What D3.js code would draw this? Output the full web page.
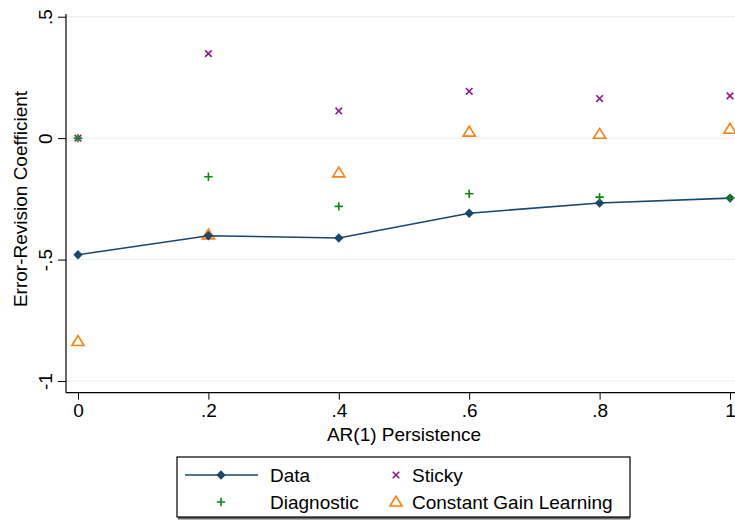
<!DOCTYPE html>
<html><head><meta charset="utf-8">
<script src="https://cdn.jsdelivr.net/npm/d3@7"></script>
<style>body{margin:0;background:#fff}svg{display:block}text{font-family:"Liberation Sans",Arial,sans-serif;fill:#000}</style>
</head><body><svg id="c" width="735" height="521"></svg>
<script>
const xs = [0, 0.2, 0.4, 0.6, 0.8, 1];
const dataVals = [-0.48, -0.402, -0.411, -0.309, -0.267, -0.247];
const stickyVals = [0.0, 0.348, 0.112, 0.193, 0.163, 0.174];
const diagnosticVals = [0.0, -0.159, -0.281, -0.229, -0.243, -0.247];
const cglVals = [-0.837, -0.398, -0.143, 0.025, 0.016, 0.037];
const xTicks = [0, 0.2, 0.4, 0.6, 0.8, 1];
const xTickLabels = ["0", ".2", ".4", ".6", ".8", "1"];
const yTicks = [0.5, 0, -0.5, -1];
const yTickLabels = [".5", "0", "-.5", "-1"];

const FS = 19;
const svg = d3.select("#c");
const x = d3.scaleLinear().domain([0, 1]).range([78, 730]);
const y = d3.scaleLinear().domain([-1, 0.5]).range([381, 16.7]);
const pL = 66, pR = 735, pT = 14, pB = 392.7;

// gridlines
svg.append("g").selectAll("line").data(yTicks).join("line")
  .attr("x1", pL).attr("x2", pR).attr("y1", d => y(d)).attr("y2", d => y(d))
  .attr("stroke", "#eaf2f3").attr("stroke-width", 1.2);

// y axis
const yAxis = d3.axisLeft(y).tickValues(yTicks).tickSize(8).tickFormat((d, i) => yTickLabels[i]);
const gy = svg.append("g").attr("transform", `translate(${pL},0)`).call(yAxis);
gy.select(".domain").remove();
gy.selectAll(".tick line").attr("stroke", "#000");
gy.selectAll(".tick text").attr("font-size", FS).attr("fill", "#000")
  .attr("x", 0).attr("y", 0).attr("dy", 0)
  .attr("text-anchor", "middle")
  .attr("transform", "translate(-14,0) rotate(-90)");
svg.append("line").attr("x1", pL).attr("x2", pL).attr("y1", pT).attr("y2", pB).attr("stroke", "#000").attr("stroke-width", 1.2);

// x axis
const xAxis = d3.axisBottom(x).tickValues(xTicks).tickSize(7).tickFormat((d, i) => xTickLabels[i]);
const gx = svg.append("g").attr("transform", `translate(0,${pB})`).call(xAxis);
gx.select(".domain").remove();
gx.selectAll(".tick line").attr("stroke", "#000");
gx.selectAll(".tick text").attr("font-size", FS).attr("fill", "#000").attr("y", 11).attr("dy", "0.71em");
svg.append("line").attr("x1", pL).attr("x2", pR).attr("y1", pB).attr("y2", pB).attr("stroke", "#000").attr("stroke-width", 1.2);

// axis titles
svg.append("text").attr("x", 404).attr("y", 441).attr("text-anchor", "middle").attr("font-size", FS).text("AR(1) Persistence");
svg.append("text").attr("transform", "translate(27,199) rotate(-90)").attr("text-anchor", "middle").attr("font-size", FS).text("Error-Revision Coefficient");

const navy = "#1a476f", purple = "#8b1a8b", green = "#0b8a0b", orange = "#ff7f0e";

function diamond(g, cx, cy, r, col){ g.append("path").attr("d", `M${cx},${cy-r}L${cx+r},${cy}L${cx},${cy+r}L${cx-r},${cy}Z`).attr("fill", col); }
function cross(g, cx, cy, r, col){ g.append("path").attr("d", `M${cx-r},${cy-r}L${cx+r},${cy+r}M${cx-r},${cy+r}L${cx+r},${cy-r}`).attr("stroke", col).attr("stroke-width", 1.6).attr("fill","none"); }
function plus(g, cx, cy, r, col){ g.append("path").attr("d", `M${cx-r},${cy}L${cx+r},${cy}M${cx},${cy-r}L${cx},${cy+r}`).attr("stroke", col).attr("stroke-width", 1.6).attr("fill","none"); }
function tri(g, cx, cy, r, col){ g.append("path").attr("d", `M${cx},${cy-r}L${cx+r*1.05},${cy+r*0.7}L${cx-r*1.05},${cy+r*0.7}Z`).attr("stroke", col).attr("stroke-width", 1.6).attr("fill","none"); }

const marks = svg.append("g");
xs.forEach((v, i) => tri(marks, x(v), y(cglVals[i]), 5.8, orange));
xs.forEach((v, i) => cross(marks, x(v), y(stickyVals[i]), 3.3, purple));
const line = d3.line().x((d, i) => x(xs[i])).y(d => y(d));
marks.append("path").datum(dataVals).attr("d", line).attr("fill", "none").attr("stroke", navy).attr("stroke-width", 1.6);
xs.forEach((v, i) => diamond(marks, x(v), y(dataVals[i]), 4.7, navy));
xs.forEach((v, i) => plus(marks, x(v), y(diagnosticVals[i]), 4.2, green));

// legend
const lg = svg.append("g");
lg.append("rect").attr("x", 178).attr("y", 459.5).attr("width", 452).attr("height", 60).attr("fill", "#666");
lg.append("rect").attr("x", 177).attr("y", 457).attr("width", 453).attr("height", 60).attr("fill", "#fff").attr("stroke", "#000").attr("stroke-width", 1.2);
lg.append("line").attr("x1", 185).attr("x2", 258).attr("y1", 475).attr("y2", 475).attr("stroke", navy).attr("stroke-width", 1.6);
diamond(lg, 221, 475, 4.7, navy);
plus(lg, 221, 502, 4.2, green);
cross(lg, 396, 475, 3.3, purple);
tri(lg, 396, 502, 5.8, orange);
const lt = [["Data", 270, 482], ["Diagnostic", 270, 509], ["Sticky", 412, 482], ["Constant Gain Learning", 412, 509]];
lt.forEach(t => lg.append("text").attr("x", t[1]).attr("y", t[2]).attr("font-size", FS).text(t[0]));
</script></body></html>
